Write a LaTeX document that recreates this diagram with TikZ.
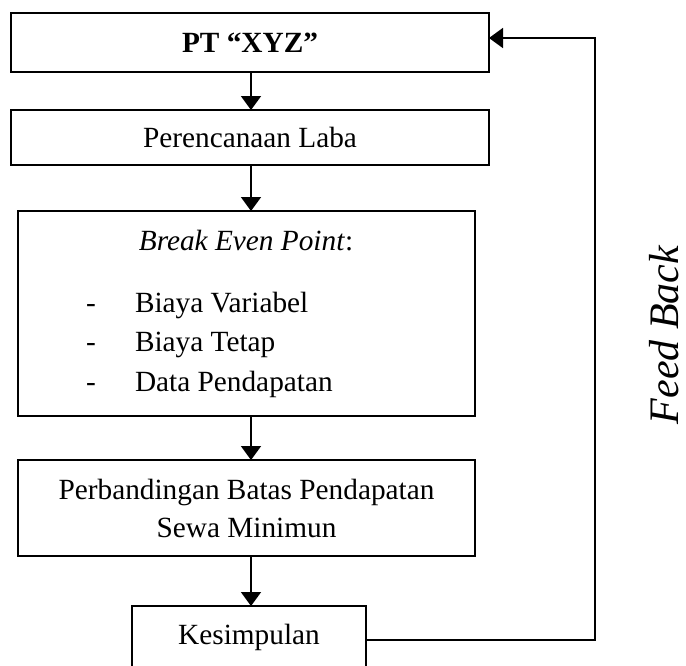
\documentclass[tikz,border=0pt]{standalone}
\usepackage{fontspec}
\setmainfont{Liberation Serif}
\usetikzlibrary{arrows.meta}
\begin{document}
\begin{tikzpicture}[x=1pt,y=-1pt,
  box/.style={draw, line width=1.8pt, inner sep=0pt, outer sep=0pt, align=center,
              font=\fontsize{29.3}{38}\selectfont},
  txt/.style={inner sep=0pt, outer sep=0pt, font=\fontsize{29.3}{38}\selectfont},
  arr/.style={line width=1.8pt, -{Triangle[length=14pt,width=20pt]}}]
\useasboundingbox (0,0) rectangle (686,665);
\fill[white] (0,0) rectangle (686,665);
\clip (0,0) rectangle (686,665);
% boxes
\node[box, minimum width=478pt, minimum height=59pt] (b1) at (250,42.5) {\bfseries PT “XYZ”};
\node[box, minimum width=478pt, minimum height=55pt] (b2) at (250,137.5) {Perencanaan Laba};
\node[box, minimum width=457pt, minimum height=205pt] (b3) at (246.5,313.5) {};
\node[box, minimum width=457pt, minimum height=96pt] (b4) at (246.5,508) {Perbandingan Batas Pendapatan\\Sewa Minimun};
\node[box, minimum width=234pt, minimum height=62pt] (b5) at (249,637) {Kesimpulan};
% contents of box 3
\node[txt, anchor=base] (bep) at (246,250) {\textit{Break Even Point}:};
\node[txt, anchor=base] (d1) at (91,312) {-};
\node[txt, anchor=base] (d2) at (91,351) {-};
\node[txt, anchor=base] (d3) at (91,391) {-};
\node[txt, anchor=base west] (i1) at (135,312) {Biaya Variabel};
\node[txt, anchor=base west] (i2) at (135,351) {Biaya Tetap};
\node[txt, anchor=base west] (i3) at (135,391) {Data Pendapatan};
% feedback label
\node[inner sep=0pt, rotate=90, font=\fontsize{42}{48}\selectfont\itshape] (fbl) at (664,335) {Feed Back};
% connectors
\coordinate (ax) at (251,0);
\coordinate (fbtop) at (595,38);
\draw[arr] (b1.south -| ax) -- (b2.north -| ax);
\draw[arr] (b2.south -| ax) -- (b3.north -| ax);
\draw[arr] (b3.south -| ax) -- (b4.north -| ax);
\draw[arr] (b4.south -| ax) -- (b5.north -| ax);
\draw[arr] ([yshift=-3pt]b5.east) -| (fbtop) -- (fbtop -| b1.east);
\end{tikzpicture}
\end{document}
